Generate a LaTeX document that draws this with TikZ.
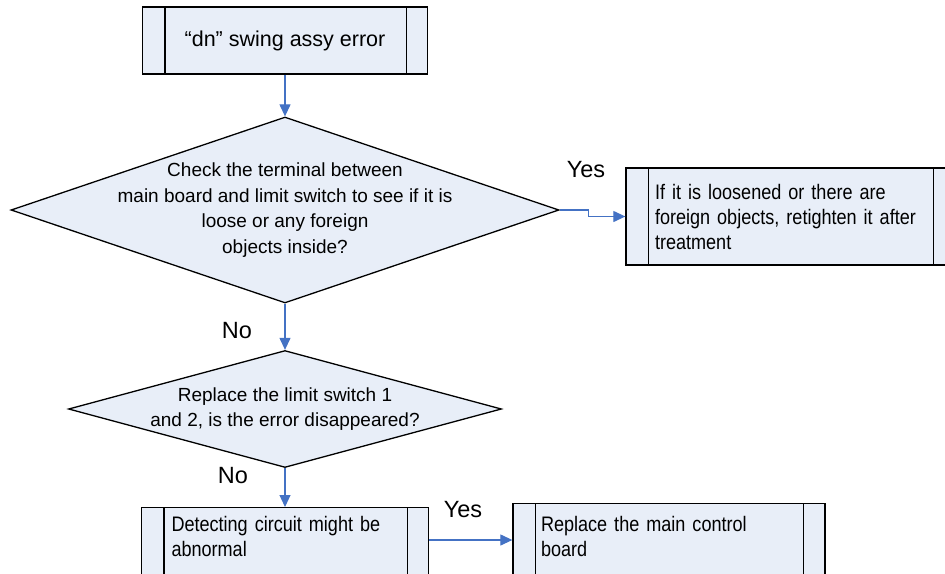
\documentclass[tikz,border=0pt]{standalone}
\usepackage{fontspec}
\setmainfont{Liberation Sans}
\newfontfamily\narrowfont[FakeStretch=0.86]{Liberation Sans}
\usetikzlibrary{arrows.meta, positioning, shapes.geometric}
\definecolor{boxFill}{RGB}{232,238,248}
\definecolor{flowBlue}{RGB}{68,114,196}
\tikzset{
    procBox/.style={rectangle, draw=black, fill=boxFill, line width=1.3pt, inner sep=0pt, font=\narrowfont\fontsize{21}{25}\selectfont},
    decNode/.style={diamond, draw=black, fill=boxFill, line width=1.3pt, inner sep=0pt},
    decText/.style={align=center, font=\fontsize{19}{25.5}\selectfont},
    flowArrow/.style={-{Triangle[length=12pt, width=11pt]}, draw=flowBlue, line width=1.2pt},
    flowLabel/.style={font=\fontsize{23.5}{26}\selectfont}
}

\begin{document}
\begin{tikzpicture}[x=1pt, y=-1pt]
    \clip (0,0) rectangle (945,573);
    \node[procBox, minimum width=285pt, minimum height=67pt, font=\fontsize{21.5}{25}\selectfont] (errBox) at (285,40.5) {“dn” swing assy error};
    \node[decNode, minimum width=548pt, minimum height=186pt,
          label={[decText]center:{Check the terminal between\\main board and limit switch to see if it is\\loose or any foreign\\objects inside?}}] (chkNode) at (285,210) {};
    \node[procBox, minimum width=329pt, minimum height=97pt, text width=271pt, align=left] (fixBox) at (790.5,216.5)
        {If it is loosened or there are foreign objects, retighten it after treatment};
    \node[decNode, minimum width=433pt, minimum height=117pt,
          label={[decText]center:{Replace the limit switch 1\\and 2, is the error disappeared?}}] (swNode) at (285,409) {};
    \node[procBox, anchor=north, minimum width=287pt, text width=227pt, align=left, inner ysep=9pt, text depth=50pt] (detBox) at (285,507)
        {Detecting circuit might be abnormal};
    \node[procBox, anchor=north, minimum width=312pt, text width=256pt, align=left, inner ysep=13pt, text depth=50pt] (repBox) at (669,503)
        {Replace the main control board};

    % side bars of the process boxes
    \foreach \b in {errBox, fixBox, detBox, repBox}{
        \draw[line width=1.3pt] ([xshift=23pt]\b.north west) -- ([xshift=23pt]\b.south west);
        \draw[line width=1.3pt] ([xshift=-22pt]\b.north east) -- ([xshift=-22pt]\b.south east);
    }

    \draw[flowArrow] (errBox.south) -- (chkNode.north);
    \draw[flowArrow] (chkNode.east) -- ++(29,0) |- (fixBox.west);
    \draw[flowArrow] (chkNode.south) -- (swNode.north);
    \draw[flowArrow] (swNode.south) -- (detBox.north);
    \draw[flowArrow] ([yshift=-33pt]detBox.north east) -- ([yshift=-33pt]detBox.north east -| repBox.west);

    \node[flowLabel] (yesA) at (586,170) {Yes};
    \node[flowLabel] (noA) at (237,331) {No};
    \node[flowLabel] (noB) at (233,476) {No};
    \node[flowLabel] (yesB) at (463,510) {Yes};
\end{tikzpicture}
\end{document}
